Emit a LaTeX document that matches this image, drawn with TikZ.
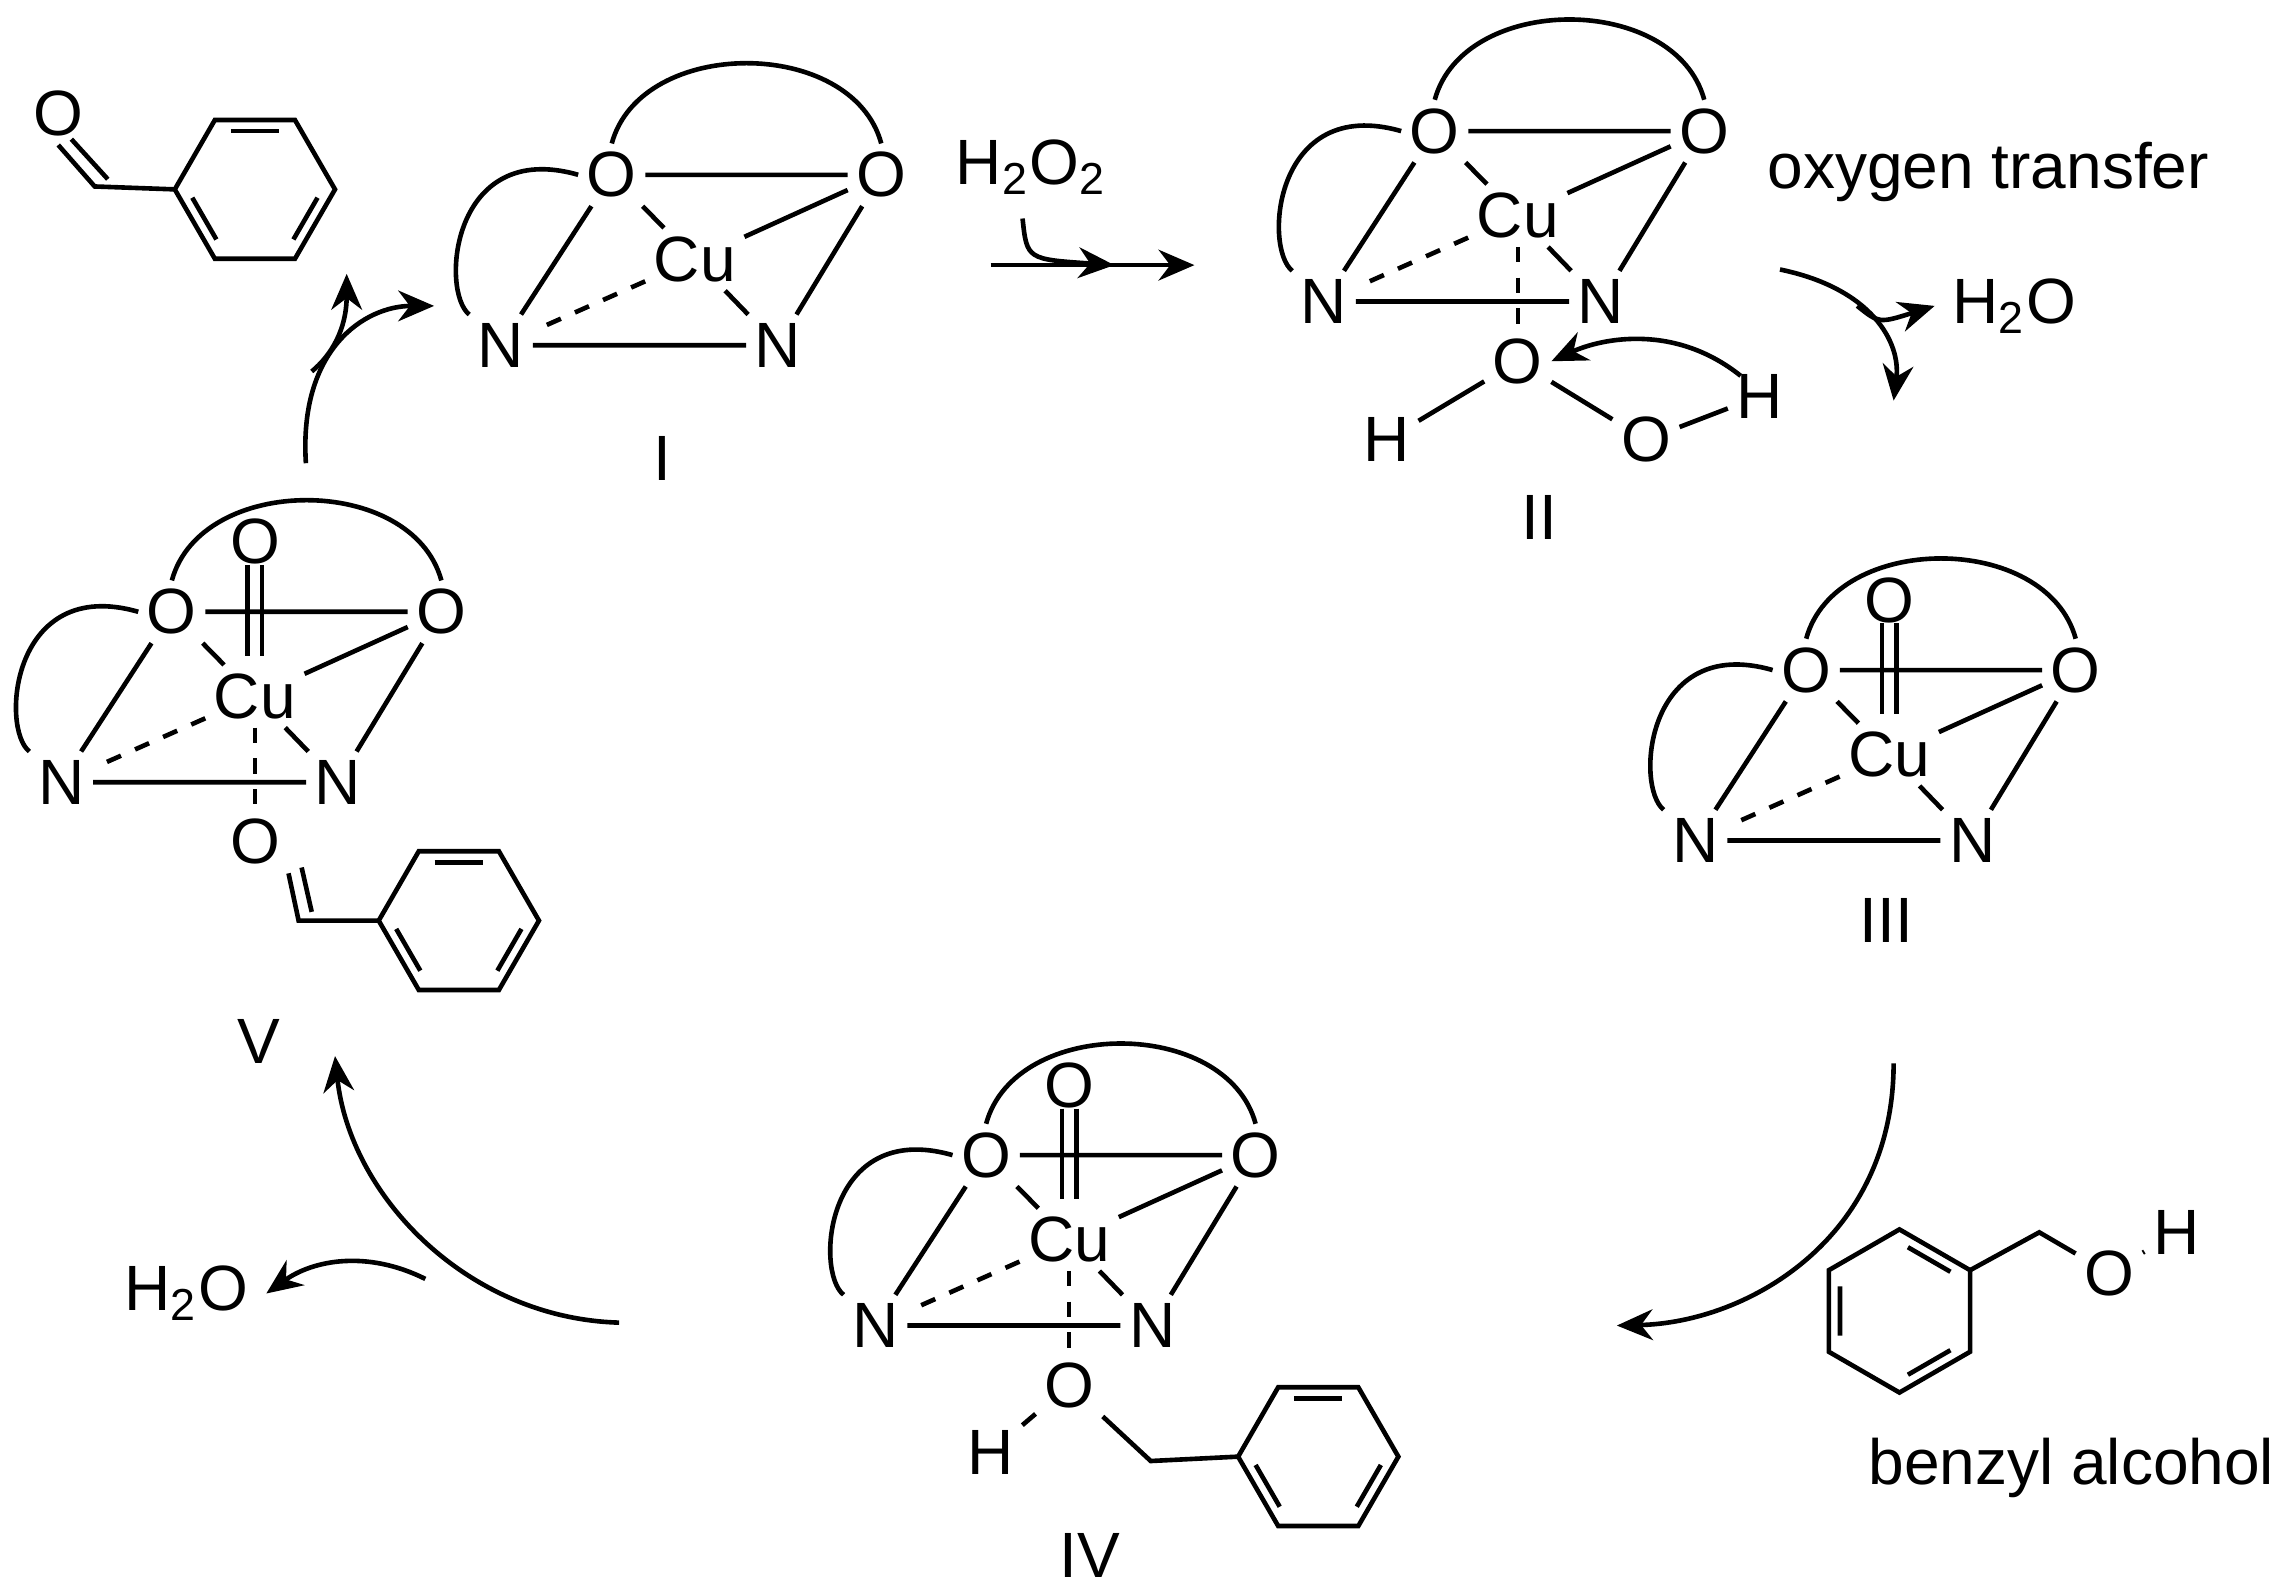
\documentclass[tikz,border=0pt]{standalone}
\usepackage{fontspec}
\setmainfont{Liberation Sans}
\usetikzlibrary{arrows.meta,calc}
\tikzset{atom/.style={inner sep=1.5pt,font=\fontsize{12.5}{12.5}\selectfont},
 lbl/.style={font=\fontsize{12.5}{12.5}\selectfont},
 bnd/.style={line width=0.9pt},
 rxn/.style={line width=0.9pt,-{Stealth[length=7pt,width=6pt]}}}
\newcommand\cplx[3]{%
\begin{scope}[shift={(#2,#3)}]
\node[atom] (#1a) at (0,0) {O};
\node[atom] (#1b) at (185,0) {O};
\node[atom] (#1c) at (57,58) {Cu};
\node[atom] (#1d) at (-76,117) {N};
\node[atom] (#1e) at (114,117) {N};
\draw[bnd] (#1a)--(#1b) (#1a)--(#1d) (#1a)--(#1c) (#1c)--(#1b) (#1b)--(#1e) (#1c)--(#1e) (#1d)--(#1e);
\draw[bnd,dashed] (#1c)--(#1d);
\draw[bnd] (#1a.north) .. controls (20,-95) and (165,-95) .. (#1b.north);
\draw[bnd] (#1a.west) .. controls (-110,-25) and (-118,80) .. (#1d.north west);
\end{scope}}
\newcommand\oxo[3]{%
\begin{scope}[shift={(#2,#3)}]
\node[atom] (#1f) at (57,-48) {O};
\draw[bnd] (52,-32)--(52,30) (62,-32)--(62,30);
\end{scope}}
\newcommand\axial[3]{%
\begin{scope}[shift={(#2,#3)}]
\node[atom] (#1g) at (57,158) {O};
\draw[bnd,dashed] (#1c.south)--(#1g.north);
\end{scope}}
% name, x, y, r, angle offset
\newcommand\benz[5]{%
\begin{scope}[shift={(#2,#3)},rotate=#5]
\draw[bnd] (0:#4)--(60:#4)--(120:#4)--(180:#4)--(240:#4)--(300:#4)--cycle;
\coordinate (#1r) at (0:#4); \coordinate (#1l) at (180:#4);
\coordinate (#1ur) at (300:#4);
\foreach \a in {0,120,240}{\draw[bnd] ($(\a:#4)!0.18!(0,0)!0.12!(\a+60:#4)$) -- ($(\a+60:#4)!0.18!(0,0)!0.12!(\a:#4)$);}
\end{scope}}
\begin{document}
\begin{tikzpicture}[x=0.01cm,y=-0.01cm]
\useasboundingbox (0,0) rectangle (1568,1093);
% I
\cplx{A}{420}{120}
\node[lbl] (lI) at (455,315) {I};
% II
\cplx{B}{985}{90}
\axial{B}{985}{90}
\node[atom] (BH1) at (952,302) {H};
\node[atom] (BO2) at (1130,302) {O};
\node[atom] (BH2) at (1208,272) {H};
\draw[bnd] (BH1)--(Bg) (Bg)--(BO2) (BO2)--(BH2);
\node[lbl] (lII) at (1057,355) {II};
\coordinate (bs) at (1195,258);
\draw[rxn] (bs) .. controls (1150,222) and (1100,232) .. (Bg.east);
% III
\cplx{C}{1240}{460}
\oxo{C}{1240}{460}
\node[lbl] (lIII) at (1295,632) {III};
% IV
\cplx{D}{677}{793}
\oxo{D}{677}{793}
\axial{D}{677}{793}
\node[atom] (DH) at (680,997) {H};
\coordinate (Dch) at (790,1003);
\benz{Dr}{905}{1000}{55}{0}
\draw[bnd] (DH)--(Dg) (Dg)--(Dch)--(Drl);
\node[lbl] (lIV) at (748,1068) {IV};
% V
\cplx{E}{118}{420}
\oxo{E}{118}{420}
\axial{E}{118}{420}
\coordinate (Ec) at (205,632);
\benz{Er}{315}{632}{55}{0}
\draw[bnd] (Eg.south east)--(Ec)--(Erl);
\draw[bnd] ($(Eg.south east)+(9,-4)$)--($(Ec)+(9,-6)$);
\node[lbl] (lV) at (178,715) {V};
% benzaldehyde
\node[atom] (PO) at (40,78) {O};
\coordinate (Pc) at (65,128);
\benz{Pr}{175}{130}{55}{0}
\draw[bnd] (PO.south)--(Pc)--(Prl);
\draw[bnd] ($(PO.south)+(9,-4)$)--($(Pc)+(9,-5)$);
% benzyl alcohol
\benz{Q}{1304}{900}{56}{-30}
\coordinate (Qch) at (1400,846);
\node[atom] (QO) at (1448,874) {O};
\node[atom] (QH) at (1494,846) {H};
\draw[bnd] (Qur)--(Qch)--(QO)--(QH);
\node[lbl] (lba) at (1422,1008) {benzyl alcohol};
% labels
\node[lbl] (h2o2) at (708,115) {H\textsubscript{2}O\textsubscript{2}};
\node[lbl] (ot) at (1365,118) {oxygen transfer};
\node[lbl] (w1) at (1383,210) {H\textsubscript{2}O};
\node[lbl] (w2) at (128,888) {H\textsubscript{2}O};
% arrows
\coordinate (a1s) at (680,182); \coordinate (a1e) at (820,182);
\draw[rxn] (a1s)--(a1e);
\draw[rxn] (702,150) .. controls (705,178) .. (765,182);
\coordinate (a2s) at (1222,185); \coordinate (a2e) at (1300,275);
\draw[rxn] (a2s) .. controls (1285,198) and (1305,235) .. (a2e);
\draw[rxn] (1275,210) .. controls (1290,222) .. (w1.west);
\coordinate (a3s) at (1300,730); \coordinate (a3e) at (1110,910);
\draw[rxn] (a3s) .. controls (1300,850) and (1200,908) .. (a3e);
\coordinate (a4s) at (425,908); \coordinate (a4e) at (230,725);
\draw[rxn] (a4s) .. controls (320,905) and (240,820) .. (a4e);
\draw[rxn] (292,878) .. controls (252,858) and (215,865) .. (w2.east);
\coordinate (a5s) at (210,318); \coordinate (a5e) at (298,210);
\draw[rxn] (a5s) .. controls (205,240) and (250,210) .. (a5e);
\draw[rxn] (214,255) .. controls (232,240) and (238,220) .. (238,188);
\end{tikzpicture}
\end{document}
